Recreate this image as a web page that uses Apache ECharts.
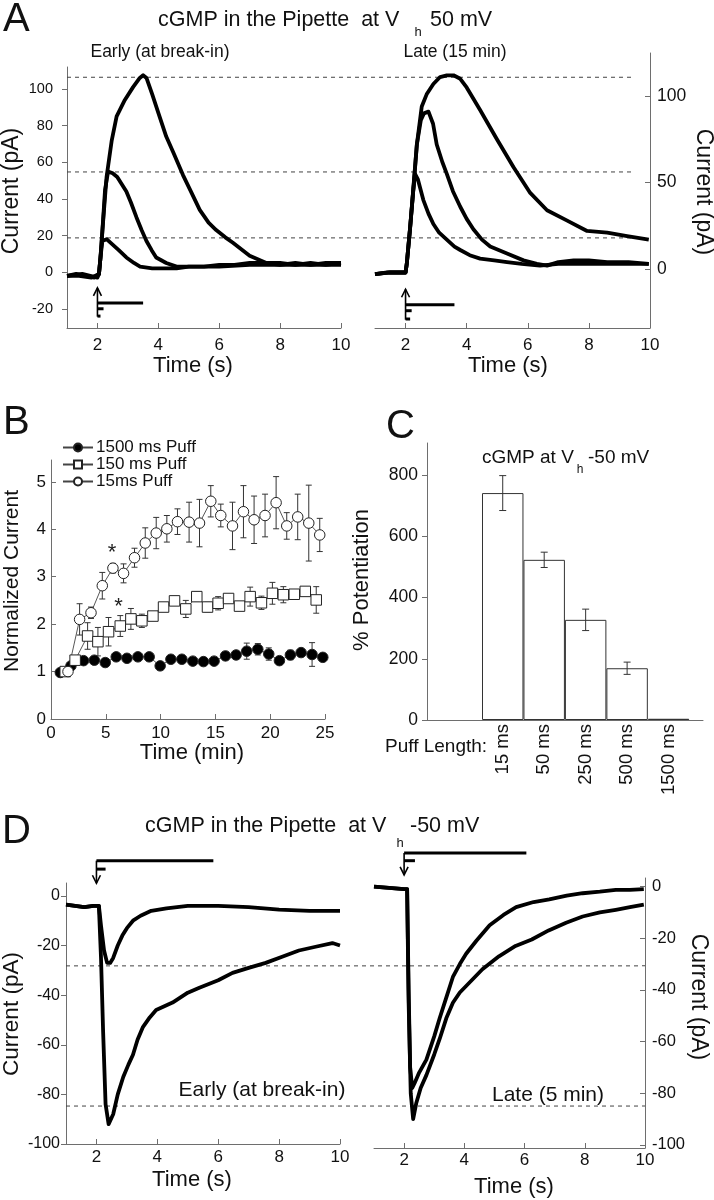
<!DOCTYPE html>
<html><head><meta charset="utf-8">
<script src="https://cdn.jsdelivr.net/npm/echarts@6/dist/echarts.min.js"></script>
<style>html,body{margin:0;padding:0;background:#fff}#c{width:714px;height:1200px}</style>
</head><body><div id="c"></div>
<script>
// ================= DATA =================
const timeTicks = [2, 4, 6, 8, 10];
const aLeftTicks = [-20, 0, 20, 40, 60, 80, 100];
const aRightTicks = [0, 50, 100];
const dTicks = [0, -20, -40, -60, -80, -100];
const bYTicks = [0, 1, 2, 3, 4, 5];
const cYTicks = [0, 200, 400, 600, 800];

// Panel A (positive currents, pA vs s)
const aPeakLevels = [106.4, 54.7, 18.7];
const aEarlyLarge = [[1,-2],[1.3,-1],[1.6,-2],[1.9,-3],[2.05,-1],[2.1,8],[2.16,22],[2.3,52],[2.47,72],[2.63,85],[2.9,94],[3.17,101],[3.39,106],[3.5,107.5],[3.61,106],[3.8,97],[4.0,87],[4.26,74],[4.5,65],[4.81,53],[5.1,43],[5.36,34],[5.65,27],[5.9,23],[6.2,19],[6.45,16],[7.0,9],[7.55,5],[8.0,5],[8.5,4],[9,5],[9.5,4],[10,5]];
const aEarlyMedium = [[1,-2],[1.4,-2],[1.8,-3],[2.05,-1],[2.1,8],[2.16,22],[2.25,45],[2.35,55],[2.5,54],[2.65,52],[2.8,48],[2.95,44],[3.1,38],[3.28,30],[3.45,23],[3.61,17],[3.78,12],[3.93,8],[4.26,5],[4.6,3],[5.0,3],[5.5,3],[6,4],[6.5,4],[7,5],[7.5,5],[8,4],[8.5,5],[9,4],[9.5,5],[10,5]];
const aEarlySmall = [[1,-2],[1.5,-1],[2.0,-3],[2.05,-1],[2.1,8],[2.16,17],[2.3,18],[2.5,15],[2.7,12],[2.95,8],[3.2,5],[3.4,3],[3.8,2],[4.2,2],[4.6,2],[5,3],[6,3],[7,4],[8,4],[9,4],[10,4]];
const aLateLarge = [[1,-3],[1.4,-2],[1.8,-2],[2.0,-2],[2.04,3],[2.15,24],[2.26,48],[2.37,72],[2.53,94],[2.69,101],[2.91,107],[3.13,111],[3.35,112],[3.57,112],[3.79,110],[4.0,105],[4.44,92],[4.99,75],[5.53,59],[6.08,44],[6.63,34],[7.29,28],[7.94,22],[8.6,21],[9.25,19],[9.96,17]];
const aLateMedium = [[1,-3],[1.5,-2],[2.0,-2],[2.04,3],[2.15,24],[2.26,47],[2.37,72],[2.5,86],[2.6,90],[2.75,91],[2.9,84],[3.02,72],[3.2,62],[3.35,55],[3.55,45],[3.79,36],[4.0,29],[4.22,23],[4.5,17],[4.77,13],[5.32,9],[5.86,5],[6.3,3],[6.63,2],[7.0,4],[7.5,5],[8.0,5],[8.6,4],[9.3,4],[9.96,3]];
const aLateSmall = [[1,-3],[1.5,-2],[2.0,-2],[2.04,3],[2.15,24],[2.25,45],[2.31,55],[2.4,52],[2.58,40],[2.75,32],[2.91,26],[3.1,21],[3.35,17],[3.6,13],[3.79,11],[4.1,8],[4.44,6],[4.9,5],[5.32,4],[5.8,3],[6.4,2],[7,3],[8,3],[9,3],[9.96,3]];
// stimulus markers: [x1, y1, x2, y2, arrowhead]
const aEarlyStim = [[2,-24.3,2,-8.6,1],[2,-16.8,3.5,-16.8,0],[2,-20,2.2,-20,0],[2,-24,2.1,-24,0]];
const aLateStim = [[2,-29.3,2,-11.7,1],[2,-20.7,3.6,-20.7,0],[2,-24.1,2.2,-24.1,0],[2,-28.9,2.15,-28.9,0]];

// Panel B (normalized current vs min)
const bLegend = ['1500 ms Puff', '150 ms Puff', '15ms Puff'];
const b1500Time = [0.85,1.82,2.97,3.95,4.95,5.95,6.93,7.93,8.96,9.96,10.94,11.94,12.94,13.91,14.88,15.92,16.89,17.86,18.87,19.87,20.84,21.84,22.82,23.82,24.8];
const b1500Mean = [0.98,1.12,1.23,1.24,1.19,1.31,1.28,1.31,1.31,1.12,1.26,1.26,1.22,1.21,1.22,1.33,1.35,1.43,1.47,1.37,1.23,1.35,1.40,1.36,1.30];
const b1500Err  = [0,0.04,0.05,0.05,0.08,0.05,0.05,0.07,0.05,0.08,0.05,0.05,0.05,0.07,0.06,0.08,0.08,0.17,0.12,0.13,0.05,0.1,0.06,0.25,0.07];
const b150Time = [1.3,2.2,3.34,4.28,5.25,6.32,7.29,8.29,9.3,10.27,11.27,12.3,13.3,14.28,15.25,16.2,17.2,18.17,19.2,20.2,21.2,22.2,23.2,24.2];
const b150Mean = [1.0,1.24,1.75,1.63,1.84,1.96,2.11,2.07,2.17,2.36,2.49,2.32,2.58,2.36,2.44,2.54,2.38,2.58,2.45,2.65,2.62,2.63,2.69,2.51];
const b150Err  = [0,0.06,0.28,0.3,0.3,0.22,0.22,0.14,0.07,0.05,0.05,0.18,0.1,0.1,0.14,0.05,0.05,0.2,0.14,0.23,0.17,0.1,0.08,0.28];
const b15Time = [1.55,2.61,3.65,4.68,5.65,6.62,7.62,8.6,9.6,10.57,11.54,12.6,13.55,14.58,15.49,16.56,17.56,18.53,19.53,20.54,21.51,22.51,23.52,24.52];
const b15Mean = [1.0,2.10,2.24,2.81,3.18,3.07,3.40,3.71,3.92,4.01,4.16,4.15,4.13,4.59,4.29,4.07,4.37,4.20,4.29,4.56,4.07,4.26,4.13,3.88];
const b15Err  = [0,0.33,0.12,0.28,0.1,0.2,0.2,0.32,0.33,0.28,0.27,0.42,0.5,0.33,0.24,0.5,0.55,0.5,0.45,0.55,0.28,0.48,0.8,0.35];
const bAsterisks = [[5.56,3.5],[6.17,2.37]];

// Panel C (% potentiation by puff length)
const cLabels = ['15 ms', '50 ms', '250 ms', '500 ms', '1500 ms'];
const cMean = [741, 523, 327, 169, 4];
const cErr = [57, 25, 35, 20, 0];

// Panel D (negative currents)
const dPeakLevels = [-28.2, -84.7];
const dEarlySmall = [[1,-3.5],[1.3,-4],[1.6,-4.5],[1.9,-4],[2.08,-4],[2.15,-12],[2.25,-22],[2.35,-27],[2.45,-27],[2.55,-25],[2.7,-20],[2.85,-16],[3.0,-13],[3.2,-10],[3.45,-8],[3.8,-6],[4.3,-5],[5.0,-4],[6,-4],[7,-4.5],[8,-5.5],[9,-6],[10,-6]];
const dEarlyLarge = [[1,-3.5],[1.3,-4],[1.6,-4.5],[1.9,-4],[2.08,-4],[2.15,-25],[2.22,-55],[2.3,-84],[2.4,-92],[2.55,-88],[2.7,-80],[2.88,-73],[3.05,-68],[3.2,-64],[3.35,-58],[3.52,-53],[3.75,-49],[3.96,-46],[4.5,-43],[5.0,-39],[5.38,-37],[6.0,-34],[6.47,-31],[7.0,-29],[7.56,-27],[8.1,-24.5],[8.65,-22],[9.2,-20.5],[9.75,-19],[10,-20]];
const dLateFast = [[1,0],[1.5,-0.5],[2.0,-1],[2.1,-1],[2.15,-40],[2.2,-70],[2.27,-78],[2.35,-76],[2.5,-72],[2.74,-67],[3.0,-58],[3.18,-51],[3.4,-43],[3.62,-35],[3.85,-30],[4.06,-26],[4.4,-21],[4.84,-15],[5.3,-11],[5.72,-8],[6.3,-6],[6.82,-5],[7.4,-3.5],[7.93,-2.6],[8.5,-2],[9.03,-1.3],[9.5,-1.3],[9.96,-1]];
const dLateSlow = [[1,0],[1.5,-0.5],[2.0,-1],[2.1,-1],[2.15,-45],[2.22,-80],[2.3,-90],[2.4,-84],[2.55,-78],[2.74,-73],[3.0,-65],[3.18,-59],[3.4,-51],[3.62,-45],[3.85,-41],[4.06,-38.5],[4.6,-32],[5.15,-27],[5.7,-23],[6.24,-20.5],[6.8,-17],[7.38,-14],[7.93,-11.6],[8.5,-10],[9.03,-9],[9.5,-8],[9.96,-7]];
const dEarlyStim = [[2,14.2,2,5.1,1],[2,14.2,5.84,14.2,0],[2,10.8,2.3,10.8,0]];
const dLateStim = [[2,13,2,4.5,1],[2,13,6.06,13,0],[2,10,2.36,10,0]];

// ================= RENDER =================
const FONT = '"Liberation Sans", Arial, Helvetica, sans-serif';
const AX = '#6e6e6e';
const TXT = '#111';
const chart = echarts.init(document.getElementById('c'), null, {renderer: 'canvas', width: 714, height: 1200});

function hiddenAxis(gridIndex, min, max, type) {
  return {type: type || 'value', gridIndex, min, max, show: false};
}
function timeX(gridIndex, margin) {
  return {type: 'value', gridIndex, min: 1, max: 10,
    axisLine: {show: true, onZero: false, lineStyle: {color: AX, width: 1}},
    axisTick: {show: true, inside: true, length: 5, customValues: timeTicks, lineStyle: {color: AX}},
    axisLabel: {customValues: timeTicks, fontSize: 17, color: TXT, fontFamily: FONT, margin: margin},
    splitLine: {show: false}};
}
function valY(gridIndex, min, max, ticks, pos, inside, fontSize, margin) {
  return {type: 'value', gridIndex, min, max, position: pos,
    axisLine: {show: true, onZero: false, lineStyle: {color: AX, width: 1}},
    axisTick: {show: true, inside: inside, length: 5, customValues: ticks, lineStyle: {color: AX}},
    axisLabel: {customValues: ticks, fontSize: fontSize, color: TXT, fontFamily: FONT, margin: margin},
    splitLine: {show: false}};
}
function trace(data, xi, yi) {
  return {type: 'line', xAxisIndex: xi, yAxisIndex: yi, data: data, showSymbol: false, symbol: 'none',
    lineStyle: {color: '#000', width: 3.8, join: 'round'}, z: 3, silent: true, emphasis: {disabled: true}};
}
function dashed(levels, xi, yi) {
  return levels.map(v => ({type: 'line', xAxisIndex: xi, yAxisIndex: yi, data: [[0, v], [1, v]],
    showSymbol: false, symbol: 'none', lineStyle: {color: '#444', width: 1, type: [4, 4]}, z: 1, silent: true}));
}
function stimRender(params, api) {
  const p1 = api.coord([api.value(0), api.value(1)]);
  const p2 = api.coord([api.value(2), api.value(3)]);
  const arrow = api.value(4);
  const horiz = Math.abs(p1[1] - p2[1]) < 0.5;
  const ch = [{type: 'line', shape: {x1: p1[0], y1: p1[1], x2: p2[0], y2: p2[1]},
    style: {stroke: '#000', lineWidth: horiz ? 3 : 1.6}}];
  if (arrow) {
    const dir = Math.sign(p2[1] - p1[1]);
    ch.push({type: 'polyline', shape: {points: [[p2[0] - 4, p2[1] - dir * 8], [p2[0], p2[1]], [p2[0] + 4, p2[1] - dir * 8]]},
      style: {stroke: '#000', fill: null, lineWidth: 1.6}});
  }
  return {type: 'group', children: ch};
}
function stim(data, xi, yi) {
  return {type: 'custom', xAxisIndex: xi, yAxisIndex: yi, data: data, renderItem: stimRender, clip: false, silent: true, z: 4};
}
function errRender(cap, color) {
  return function (params, api) {
    const x = api.value(0), y = api.value(1), e = api.value(2);
    if (!e) return null;
    const t = api.coord([x, y + e]), b = api.coord([x, y - e]);
    const st = {stroke: color, lineWidth: 1};
    return {type: 'group', children: [
      {type: 'line', shape: {x1: t[0], y1: t[1], x2: b[0], y2: b[1]}, style: st},
      {type: 'line', shape: {x1: t[0] - cap, y1: t[1], x2: t[0] + cap, y2: t[1]}, style: st},
      {type: 'line', shape: {x1: b[0] - cap, y1: b[1], x2: b[0] + cap, y2: b[1]}, style: st}]};
  };
}
function zip3(a, b, c) { return a.map((v, i) => [v, b[i], c[i]]); }
function T(text, x, y, size, opt) {
  opt = opt || {};
  const al = opt.align || 'center';
  return {type: 'text', x: x, y: y, rotation: opt.rot || 0, silent: true,
    style: {text: text, font: size + 'px ' + FONT, fill: TXT, textAlign: al, align: al,
      textVerticalAlign: 'middle', verticalAlign: 'middle'}};
}

const bSeries = [
  {name: bLegend[0], time: b1500Time, mean: b1500Mean, err: b1500Err, symbol: 'circle', fill: '#000'},
  {name: bLegend[1], time: b150Time, mean: b150Mean, err: b150Err, symbol: 'rect', fill: '#fff'},
  {name: bLegend[2], time: b15Time, mean: b15Mean, err: b15Err, symbol: 'circle', fill: '#fff'}
];

const series = [];
// A
series.push(trace(aEarlyLarge, 0, 0), trace(aEarlyMedium, 0, 0), trace(aEarlySmall, 0, 0));
series.push(trace(aLateLarge, 1, 1), trace(aLateMedium, 1, 1), trace(aLateSmall, 1, 1));
series.push(...dashed(aPeakLevels, 2, 2));
series.push(stim(aEarlyStim, 0, 0), stim(aLateStim, 1, 1));
// B
bSeries.forEach(s => {
  series.push({type: 'custom', xAxisIndex: 3, yAxisIndex: 3, data: zip3(s.time, s.mean, s.err),
    renderItem: errRender(3, '#333'), z: 2, silent: true});
});
bSeries.forEach(s => {
  series.push({type: 'line', name: s.name, xAxisIndex: 3, yAxisIndex: 3,
    data: s.time.map((t, i) => [t, s.mean[i]]), symbol: s.symbol, symbolSize: 10.5, showSymbol: true,
    lineStyle: {color: '#444', width: 0.9}, itemStyle: {color: s.fill, borderColor: '#222', borderWidth: 1},
    z: 3, silent: true, emphasis: {disabled: true}});
});
series.push({type: 'custom', xAxisIndex: 3, yAxisIndex: 3, data: bAsterisks, z: 5, silent: true,
  renderItem: function (params, api) {
    const p = api.coord([api.value(0), api.value(1)]);
    return {type: 'text', x: p[0], y: p[1], style: {text: '*', font: '22px ' + FONT, fill: '#222',
      textAlign: 'center', align: 'center', textVerticalAlign: 'middle', verticalAlign: 'middle'}};
  }});
// C
series.push({type: 'bar', xAxisIndex: 5, yAxisIndex: 5, data: cMean, barCategoryGap: '0%',
  itemStyle: {color: '#fff', borderColor: '#333', borderWidth: 1}, silent: true, z: 2});
series.push({type: 'custom', xAxisIndex: 5, yAxisIndex: 5, data: cMean.map((m, i) => [i, m, cErr[i]]),
  renderItem: errRender(3.5, '#333'), z: 3, silent: true});
// D
series.push(trace(dEarlySmall, 6, 6), trace(dEarlyLarge, 6, 6));
series.push(trace(dLateFast, 7, 7), trace(dLateSlow, 7, 7));
series.push(...dashed(dPeakLevels, 8, 8));
series.push(stim(dEarlyStim, 6, 6), stim(dLateStim, 7, 7));

const option = {
  animation: false,
  backgroundColor: '#fff',
  grid: [
    {left: 67, top: 67, width: 274, height: 261},      // 0 A early
    {left: 375, top: 53, width: 275, height: 275},     // 1 A late
    {left: 67, top: 67, width: 568, height: 261},      // 2 A dashed overlay
    {left: 51, top: 460, width: 274, height: 259},     // 3 B
    {left: 427, top: 443, width: 276, height: 277},    // 4 C frame
    {left: 482, top: 443, width: 207.3, height: 277},  // 5 C bars
    {left: 66, top: 883, width: 274, height: 261},     // 6 D early
    {left: 374, top: 878, width: 271, height: 270},    // 7 D late
    {left: 66, top: 883, width: 579, height: 261}      // 8 D dashed overlay
  ],
  xAxis: [
    timeX(0, 9),
    timeX(1, 9),
    hiddenAxis(2, 0, 1),
    {type: 'value', gridIndex: 3, min: 0, max: 25, interval: 5,
      axisLine: {show: true, onZero: false, lineStyle: {color: AX}},
      axisTick: {show: true, inside: true, length: 5, lineStyle: {color: AX}},
      axisLabel: {fontSize: 17, color: TXT, fontFamily: FONT, margin: 6}, splitLine: {show: false}},
    {type: 'value', gridIndex: 4, min: 0, max: 1, axisLine: {show: true, onZero: false, lineStyle: {color: AX}},
      axisTick: {show: false}, axisLabel: {show: false}, splitLine: {show: false}},
    {type: 'category', gridIndex: 5, data: cLabels, boundaryGap: true,
      axisLine: {show: false}, axisTick: {show: false},
      axisLabel: {rotate: 90, fontSize: 18.5, color: TXT, fontFamily: FONT, margin: 4, interval: 0}},
    timeX(6, 5),
    timeX(7, 4),
    hiddenAxis(8, 0, 1)
  ],
  yAxis: [
    valY(0, -30.5, 112, aLeftTicks, 'left', false, 14.5, 14),
    valY(1, -34.1, 124.9, aRightTicks, 'right', true, 17.5, 7),
    hiddenAxis(2, -30.5, 112),
    valY(3, 0, 5.46, bYTicks, 'left', true, 17, 5),
    valY(4, 0, 904.5, cYTicks, 'left', false, 17.5, 9),
    hiddenAxis(5, 0, 904.5),
    valY(6, -100, 5.2, dTicks, 'left', false, 16, 6),
    valY(7, -101.2, 3.3, dTicks, 'right', true, 16.5, 7),
    hiddenAxis(8, -100, 5.2)
  ],
  legend: {data: bLegend, left: 62, top: 439, orient: 'vertical', itemWidth: 30, itemHeight: 10, itemGap: 0,
    padding: 0, selectedMode: false,
    textStyle: {fontSize: 17, fontFamily: FONT, color: TXT, lineHeight: 16.5, padding: [0, 0, 0, -2]}},
  graphic: [
    T('A', 3, 20, 40, {align: 'left'}),
    T('cGMP in the Pipette  at V', 158, 20, 21.5, {align: 'left'}),
    T('h', 418, 32, 13),
    T('50 mV', 430, 20, 21.5, {align: 'left'}),
    T('Early (at break-in)', 160, 52, 17.5),
    T('Late (15 min)', 455, 52, 17.5),
    T('Current (pA)', 12, 191, 23, {rot: Math.PI / 2}),
    T('Current (pA)', 703, 192, 23, {rot: -Math.PI / 2}),
    T('Time (s)', 193, 366, 22),
    T('Time (s)', 508, 366, 22),
    T('B', 3, 423, 40, {align: 'left'}),
    T('Normalized Current', 12, 581, 21, {rot: Math.PI / 2}),
    T('Time (min)', 192, 753, 22),
    T('C', 386, 427, 40, {align: 'left'}),
    T('cGMP at V', 482, 458, 19, {align: 'left'}),
    T('h', 580, 470, 12),
    T('-50 mV', 588, 458, 19, {align: 'left'}),
    T('% Potentiation', 362, 580, 22, {rot: Math.PI / 2}),
    T('Puff Length:', 385, 747, 19, {align: 'left'}),
    T('D', 2, 832, 40, {align: 'left'}),
    T('cGMP in the Pipette  at V', 145, 826, 21.5, {align: 'left'}),
    T('h', 400, 843, 13),
    T('-50 mV', 410, 826, 21.5, {align: 'left'}),
    T('Early (at break-in)', 262, 1090, 21),
    T('Late (5 min)', 548, 1095, 21),
    T('Current (pA)', 12, 1014, 22.5, {rot: Math.PI / 2}),
    T('Current (pA)', 698, 997, 23, {rot: -Math.PI / 2}),
    T('Time (s)', 192, 1180, 22),
    T('Time (s)', 514, 1187, 22)
  ],
  series: series
};
chart.setOption(option);
</script>
</body></html>
